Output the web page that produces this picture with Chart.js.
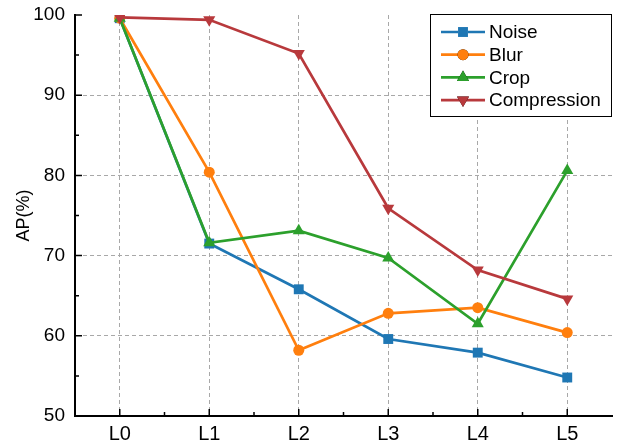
<!DOCTYPE html>
<html lang="en">
<head>
<meta charset="UTF-8">
<title>AP chart</title>
<style>
  body { margin: 0; background: #fff; }
</style>
</head>
<body>
<canvas id="grafico" width="623" height="445"></canvas>

<script src="https://cdn.jsdelivr.net/npm/chart.js"></script>
<script>
  const niveis = ["L0", "L1", "L2", "L3", "L4", "L5"]
  const noise = [99.6, 71.5, 65.8, 59.6, 57.9, 54.8]
  const blur = [99.6, 80.4, 58.2, 62.8, 63.5, 60.4]
  const crop = [99.6, 71.6, 73.1, 69.7, 61.5, 80.6]
  const compression = [99.7, 99.4, 95.2, 75.9, 68.2, 64.6]
  const yTicks = [50, 60, 70, 80, 90, 100]

  const fonte = "Arial, 'Liberation Sans', sans-serif"

  // ticks pointing inward + legend with line-marker-line entries
  const extras = {
    id: 'extras',
    afterDraw(chart) {
      const c = chart.ctx
      const x = chart.scales.x, y = chart.scales.y
      const area = chart.chartArea
      c.save()
      c.strokeStyle = '#000'
      c.lineWidth = 1.5
      c.beginPath()
      yTicks.forEach(v => {
        const py = y.getPixelForValue(v)
        c.moveTo(area.left, py); c.lineTo(area.left + 7, py)
        if (v < 100) {
          const pm = y.getPixelForValue(v + 5)
          c.moveTo(area.left, pm); c.lineTo(area.left + 4, pm)
        }
      })
      niveis.forEach((n, i) => {
        const px = x.getPixelForValue(i)
        c.moveTo(px, area.bottom); c.lineTo(px, area.bottom - 7)
        if (i < niveis.length - 1) {
          const pm = (px + x.getPixelForValue(i + 1)) / 2
          c.moveTo(pm, area.bottom); c.lineTo(pm, area.bottom - 4)
        }
      })
      c.stroke()

      // legend
      const bx = 430, by = 14, bw = 182, bh = 103
      c.fillStyle = '#fff'
      c.fillRect(bx, by, bw, bh)
      c.lineWidth = 1
      c.strokeRect(bx + 0.5, by + 0.5, bw - 1, bh - 1)
      chart.data.datasets.forEach((ds, i) => {
        const ly = by + 18 + i * 22.7
        c.strokeStyle = ds.borderColor
        c.lineWidth = ds.borderWidth
        c.beginPath(); c.moveTo(bx + 11, ly); c.lineTo(bx + 55, ly); c.stroke()
        Chart.helpers.drawPoint(c, {
          pointStyle: ds.pointStyle, radius: ds.pointRadius, rotation: ds.pointRotation || 0,
          borderWidth: 0
        }, bx + 33, ly)
        c.fillStyle = ds.borderColor
        c.fill()
        c.fillStyle = '#000'
        c.font = '19px ' + fonte
        c.textBaseline = 'middle'
        c.textAlign = 'left'
        c.fillText(ds.label, bx + 59, ly + 1)
      })
      c.restore()
    }
  }

  const ds = (label, data, cor, estilo, raio, rot, ordem) => ({
    label, data,
    borderColor: cor, backgroundColor: cor,
    borderWidth: 2.7,
    pointStyle: estilo, pointRadius: raio, pointHoverRadius: raio,
    pointRotation: rot, pointBorderWidth: 0,
    order: ordem, tension: 0
  })

  new Chart(document.getElementById('grafico'), {
    type: 'line',
    data: {
      labels: niveis,
      datasets: [
        ds('Noise', noise, '#1f77b4', 'rect', 7, 0, 3),
        ds('Blur', blur, '#ff7f0e', 'circle', 5.5, 0, 2),
        ds('Crop', crop, '#2ca02c', 'triangle', 7, 0, 1),
        ds('Compression', compression, '#b8393c', 'triangle', 7, 180, 0)
      ]
    },
    options: {
      responsive: false,
      animation: false,
      layout: { padding: { top: 15, right: 11, left: 0, bottom: 0 } },
      plugins: { legend: { display: false }, tooltip: { enabled: false } },
      scales: {
        x: {
          offset: true,
          grid: { color: '#a8a8a8', lineWidth: 1, drawTicks: false, offset: false },
          border: { color: '#000', width: 2, dash: [4, 3] },
          ticks: { color: '#000', font: { size: 20, family: fonte }, padding: 6 },
          afterFit: s => { s.height = 29; s.paddingLeft = 0; s.paddingRight = 0 }
        },
        y: {
          min: 50, max: 100,
          afterBuildTicks: s => { s.ticks = yTicks.map(v => ({ value: v })) },
          grid: {
            color: c => (c.tick && (c.tick.value === 50 || c.tick.value === 100)) ? 'rgba(0,0,0,0)' : '#a8a8a8',
            lineWidth: 1, drawTicks: false
          },
          border: { color: '#000', width: 2, dash: [4, 3] },
          ticks: { color: '#000', font: { size: 19, family: fonte }, padding: 10 },
          title: { display: true, text: 'AP(%)', color: '#000', font: { size: 18, family: fonte }, padding: { top: 13 } },
          afterFit: s => { s.width = 75; s.paddingTop = 0; s.paddingBottom = 0 }
        }
      }
    },
    plugins: [extras]
  })
</script>
</body>
</html>
